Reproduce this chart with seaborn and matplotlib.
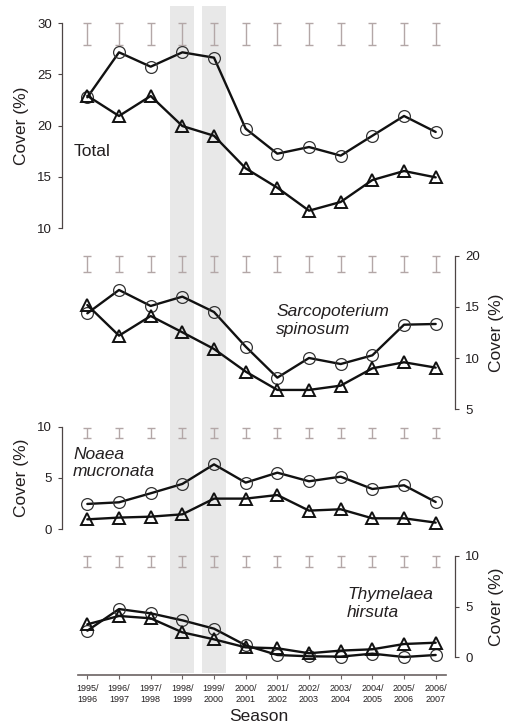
import numpy as np
import pandas as pd
import matplotlib
matplotlib.use("Agg")
import matplotlib.pyplot as plt
import matplotlib.transforms as mtransforms
import seaborn as sns

# ---- data -------------------------------------------------------------
seasons = ["1995/\n1996", "1996/\n1997", "1997/\n1998", "1998/\n1999",
           "1999/\n2000", "2000/\n2001", "2001/\n2002", "2002/\n2003",
           "2003/\n2004", "2004/\n2005", "2005/\n2006", "2006/\n2007"]

total_circle = [22.75, 27.14, 25.74, 27.14, 26.62, 19.69, 17.25, 17.9, 17.06, 19.0, 20.93, 19.37]
total_triangle = [22.9, 20.93, 22.88, 19.95, 19.0, 15.82, 13.93, 11.69, 12.54, 14.68, 15.56, 14.94]

sarco_circle = [14.37, 16.65, 15.09, 16.0, 14.5, 11.12, 8.09, 10.01, 9.42, 10.27, 13.26, 13.33]
sarco_triangle = [15.18, 12.19, 14.11, 12.52, 10.89, 8.68, 6.89, 6.89, 7.31, 9.0, 9.59, 9.07]

noaea_circle = [2.47, 2.63, 3.51, 4.42, 6.33, 4.55, 5.52, 4.68, 5.13, 3.93, 4.29, 2.66]
noaea_triangle = [0.97, 1.14, 1.23, 1.46, 2.99, 2.99, 3.34, 1.82, 1.95, 1.07, 1.07, 0.65]

thym_circle = [2.62, 4.75, 4.33, 3.64, 2.82, 1.18, 0.23, 0.1, 0.07, 0.36, 0.03, 0.23]
thym_triangle = [3.25, 4.07, 3.84, 2.46, 1.77, 0.98, 0.89, 0.4, 0.66, 0.79, 1.31, 1.44]

# vertical bars drawn above each season (low, high)
bar_low = [27.9, 18.4, 8.9, 8.85]
bar_high = [30.0, 20.0, 9.9, 10.0]

# highlighted seasons (index into seasons)
shaded_seasons = [3, 4]

panel_titles = ["Total", "Sarcopoterium\nspinosum", "Noaea\nmucronata", "Thymelaea\nhirsuta"]
panel_ticks = [[10, 15, 20, 25, 30], [5, 10, 15, 20], [0, 5, 10], [0, 5, 10]]

# ---- style ------------------------------------------------------------
sns.set_style("white")
plt.rcParams["font.family"] = ["Liberation Sans", "DejaVu Sans"]
text_color = "#231f20"
spine_color = "#4d4545"
bar_color = "#b3a7a7"
shade_color = "#e8e8e8"

W, H = 505, 724
fig = plt.figure(figsize=(W / 100, H / 100), dpi=100)

# axes rectangles in pixels (top, bottom) and y-limits
ax_px = [(6, 240), (240, 418), (418, 542), (542, 675)]
ylims = [(8.83, 31.66), (4.15, 21.53), (-1.24, 10.85), (-1.74, 11.35)]
sides = ["left", "right", "left", "right"]
title_pos = [(-0.42, 17.5, "normal"), (5.96, 13.67, "italic"),
             (-0.45, 6.44, "italic"), (8.2, 5.3, "italic")]

left_px, right_px = 62, 455
x = np.arange(len(seasons))
series_sets = [(total_circle, total_triangle), (sarco_circle, sarco_triangle),
               (noaea_circle, noaea_triangle), (thym_circle, thym_triangle)]

axes = []
for i in range(4):
    top, bot = ax_px[i]
    rect = [left_px / W, (H - bot) / H, (right_px - left_px) / W, (bot - top) / H]
    ax = fig.add_axes(rect)
    ax.set_facecolor("none")
    axes.append(ax)

    # shaded seasons
    for s in shaded_seasons:
        ax.axvspan(s - 0.38, s + 0.38, ymin=(0.015 if i == 3 else 0), ymax=1,
                   color=shade_color, lw=0, zorder=0)

    circ, tri = series_sets[i]
    df = pd.DataFrame({"season": x, "circle": circ, "triangle": tri})

    # bars above each season
    lo = np.full(len(x), bar_low[i])
    hi = np.full(len(x), bar_high[i])
    ax.errorbar(x, (lo + hi) / 2, yerr=(hi - lo) / 2, fmt="none",
                ecolor=bar_color, elinewidth=1.0, capsize=3, capthick=1.0, zorder=2)

    sns.lineplot(data=df, x="season", y="circle", ax=ax, color="#111111",
                 linewidth=1.7, marker="o", markersize=8.5, markerfacecolor="none",
                 markeredgecolor="#333333", markeredgewidth=0.9, errorbar=None, zorder=4)
    sns.lineplot(data=df, x="season", y="triangle", ax=ax, color="#111111",
                 linewidth=1.7, marker="^", markersize=8.5, markerfacecolor="none",
                 markeredgecolor="#111111", markeredgewidth=1.4, errorbar=None, zorder=5)

    ax.set_xlim(-0.80, 11.61)
    ax.set_ylim(*ylims[i])
    ticks = panel_ticks[i]
    side = sides[i]

    for sp in ["top", "bottom", "left", "right"]:
        ax.spines[sp].set_visible(False)
    ax.spines[side].set_visible(True)
    ax.spines[side].set_bounds(ticks[0], ticks[-1])
    ax.spines[side].set_color(spine_color)
    ax.spines[side].set_linewidth(0.9)

    if side == "right":
        ax.yaxis.tick_right()
        ax.yaxis.set_label_position("right")
    ax.set_yticks(ticks)
    ax.set_yticklabels([str(t) for t in ticks])
    ax.tick_params(axis="y", which="both", direction="out", length=3.2, width=0.8,
                   color=spine_color, labelsize=9.5, labelcolor=text_color, pad=4,
                   left=(side == "left"), right=(side == "right"),
                   labelleft=(side == "left"), labelright=(side == "right"))
    ax.set_ylabel("Cover (%)", fontsize=12.5, color=text_color)
    blend = mtransforms.blended_transform_factory(ax.transAxes, ax.transData)
    ycen = (ticks[0] + ticks[-1]) / 2
    if side == "left":
        ax.yaxis.set_label_coords(-0.085, ycen, transform=blend)
    else:
        ax.yaxis.set_label_coords(1.087, ycen, transform=blend)

    tx, ty, fstyle = title_pos[i]
    ax.text(tx, ty, panel_titles[i], fontsize=12.5, style=fstyle, color=text_color,
            ha="left", va="center", linespacing=1.2)

    if i < 3:
        ax.set_xticks([])
        ax.set_xlabel("")
    else:
        ax.spines["bottom"].set_visible(True)
        ax.spines["bottom"].set_bounds(-0.30, 11.33)
        ax.spines["bottom"].set_color("#6b6262")
        ax.spines["bottom"].set_linewidth(1.2)
        ax.set_xticks(x)
        ax.set_xticklabels(seasons, linespacing=1.3)
        ax.tick_params(axis="x", direction="out", length=3.2, width=0.8,
                       color="#6b6262", labelsize=6.5, labelcolor=text_color, pad=3,
                       bottom=True)
        ax.set_xlabel("Season", fontsize=12.5, color=text_color, labelpad=4)

fig.savefig("out.png", dpi=100)
